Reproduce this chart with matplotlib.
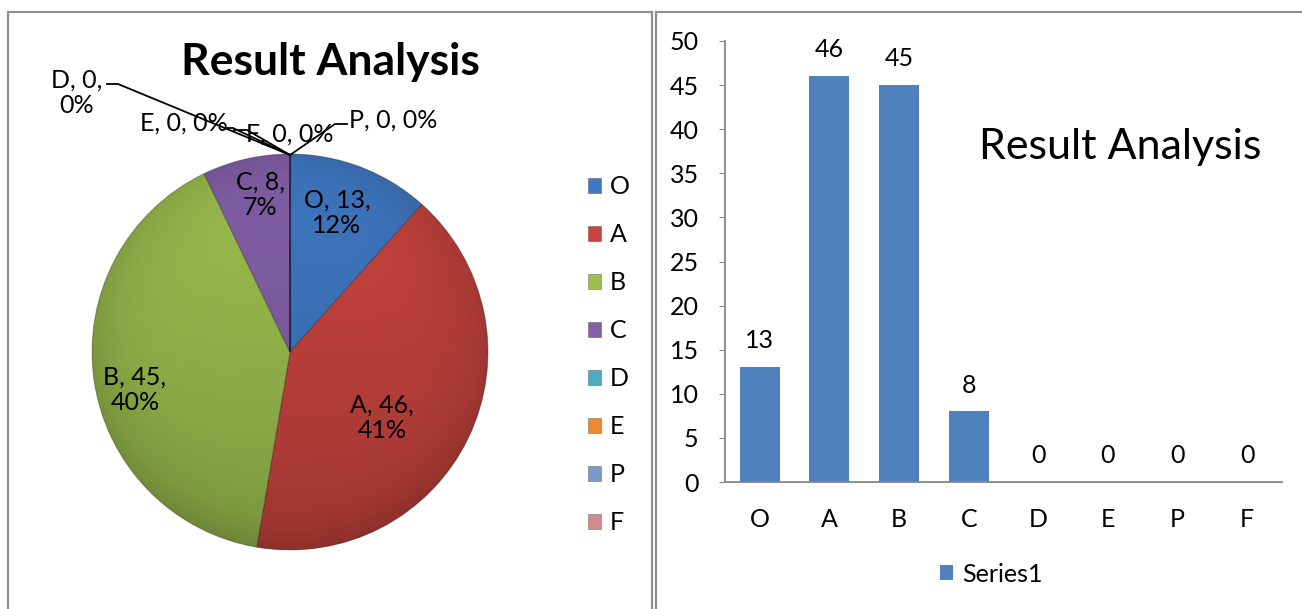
import matplotlib
matplotlib.use("Agg")
import matplotlib.pyplot as plt
from matplotlib.patches import Rectangle, Patch, Circle
from matplotlib.lines import Line2D
import numpy as np

# ---------------- data ----------------
categories = ["O", "A", "B", "C", "D", "E", "P", "F"]
counts = [13, 46, 45, 8, 0, 0, 0, 0]
pie_colors = ["#4078C2", "#C8443F", "#9CBE4E", "#8460A8",
              "#4BACC6", "#F0882E", "#7C9AC8", "#D08C8A"]
bar_color = "#4F81BD"
title = "Result Analysis"
series_name = "Series1"
y_ticks = list(range(0, 51, 5))

plt.rcParams['font.family'] = ['Lato', 'DejaVu Sans']

W, H = 1302, 609
fig = plt.figure(figsize=(W / 100, H / 100), dpi=100)
fig.patch.set_facecolor("white")


def fx(px):
    return px / W


def fy(py):
    return 1 - py / H


# panel frames
for x0, x1 in [(8, 652), (656, 1310)]:
    fig.patches.append(Rectangle((fx(x0), fy(615)), fx(x1) - fx(x0), fy(12) - fy(615),
                                 transform=fig.transFigure, fill=False,
                                 edgecolor="#8f8f8f", linewidth=1.6))

# ---------------- pie ----------------
cx, cy, R = 290, 352, 198
axp = fig.add_axes([fx(cx - R), fy(cy + R), 2 * R / W, 2 * R / H])
wedges, _ = axp.pie(counts, colors=pie_colors, startangle=90, counterclock=False,
                    radius=1, wedgeprops=dict(edgecolor=(0, 0, 0, 0.25), linewidth=0.8))
axp.set_xlim(-1, 1)
axp.set_ylim(-1, 1)
axp.axis("off")

# subtle shading overlay (darker towards the lower rim)
g = np.linspace(-1, 1, 400)
gx, gy = np.meshgrid(g, g)
rr = np.sqrt(gx ** 2 + gy ** 2)
alpha = np.clip(0.18 * (1 - gy) / 2 + 0.12 * rr ** 6, 0, 0.35)
shade = np.zeros((400, 400, 4))
shade[..., 3] = alpha
im = axp.imshow(shade, extent=(-1, 1, -1, 1), origin="lower", zorder=3,
                interpolation="bilinear")
clip = Circle((0, 0), 1.0, transform=axp.transData)
im.set_clip_path(clip)
axp.set_xlim(-1, 1)
axp.set_ylim(-1, 1)


def d(px, py):
    return ((px - cx) / R, (cy - py) / R)


total = sum(counts)
label_pos = {"O": (337, 213), "A": (382, 418), "B": (135, 390), "C": (260, 195),
             "D": (77, 93), "E": (184, 123), "F": (290, 134), "P": (393, 120)}
fs_lbl = 18
for cat, v in zip(categories, counts):
    pct = round(100 * v / total)
    if v > 0 or cat == "D":
        txt = f"{cat}, {v},\n{pct}%"
    else:
        txt = f"{cat}, {v}, {pct}%"
    x, y = d(*label_pos[cat])
    axp.text(x, y, txt, ha="center", va="center", fontsize=fs_lbl,
             linespacing=1.15, color="black", clip_on=False, zorder=5)

# leader lines for zero slices
top = d(290, 155)
leaders = {"D": [(107, 84), (118, 84)], "E": [(226, 128), (233, 128)],
           "F": [(234, 130), (247, 130)], "P": [(347, 124), (335, 124)]}
for cat, pts in leaders.items():
    xs = [d(*p)[0] for p in pts] + [top[0]]
    ys = [d(*p)[1] for p in pts] + [top[1]]
    axp.add_line(Line2D(xs, ys, color="black", linewidth=1.3, clip_on=False, zorder=5))

fig.text(fx(330), fy(62), title, ha="center", va="center", fontsize=32,
         fontweight="bold")

# legend for pie
handles = [Patch(facecolor=c, edgecolor=(0, 0, 0, 0.3), linewidth=0.6) for c in pie_colors]
fig.legend(handles, categories, loc="upper left",
           bbox_to_anchor=(fx(575), fy(163)), frameon=False, fontsize=18,
           handlelength=0.55, handleheight=0.55, handletextpad=0.35,
           labelspacing=1.0, borderpad=0)

# ---------------- bar chart ----------------
axb = fig.add_axes([fx(725), fy(482), fx(1282) - fx(725), fy(41) - fy(482)])
xpos = np.arange(len(categories))
bars = axb.bar(xpos, counts, width=0.575, color=bar_color, label=series_name)
axb.set_xlim(-0.5, len(categories) - 0.5)
axb.set_ylim(0, 50)
axb.set_yticks(y_ticks)
axb.set_xticks(xpos)
axb.set_xticklabels(categories)
axb.tick_params(axis="y", labelsize=18, length=4, color="#868686", pad=15)
axb.tick_params(axis="x", labelsize=18, length=0, pad=19)
for s in ["top", "right"]:
    axb.spines[s].set_visible(False)
for s in ["left", "bottom"]:
    axb.spines[s].set_color("#868686")
    axb.spines[s].set_linewidth(1.3)
for b, v in zip(bars, counts):
    axb.annotate(f"{v}", (b.get_x() + b.get_width() / 2, v), xytext=(0, 19),
                 textcoords="offset points", ha="center", va="center", fontsize=18)

fig.text(fx(1120), fy(147), title, ha="center", va="center", fontsize=31)

fig.legend([Patch(facecolor=bar_color)], [series_name], loc="center",
           bbox_to_anchor=(fx(991), fy(574)), frameon=False, fontsize=18,
           handlelength=0.55, handleheight=0.55, handletextpad=0.35, borderpad=0)

fig.savefig("out.png", dpi=100)
